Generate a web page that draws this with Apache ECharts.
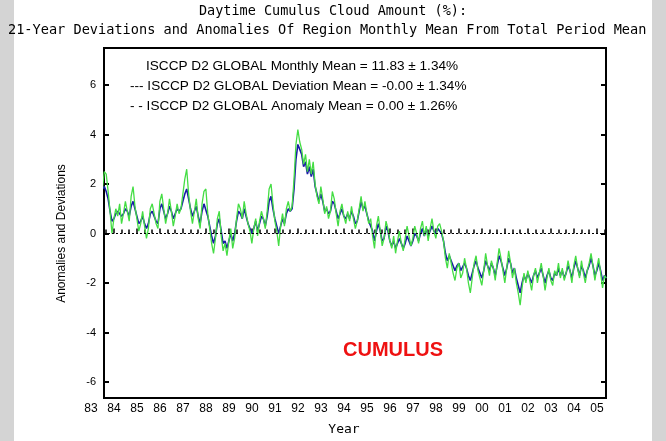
<!DOCTYPE html>
<html><head><meta charset="utf-8">
<script src="https://cdn.jsdelivr.net/npm/echarts@6/dist/echarts.min.js"></script>
<style>html,body{margin:0;padding:0;background:#fff}#c{width:666px;height:441px}</style>
</head><body><div id="c"></div>
<script>
const startYear = 83.5; // July 1983, two-digit years continued past 99
const yearTicks = [83,84,85,86,87,88,89,90,91,92,93,94,95,96,97,98,99,100,101,102,103,104,105];
const anomaly = [
1.8,2.5,2.4,1.7,0.9,0.0,
0.6,1.0,0.7,1.2,0.4,0.8,1.3,0.9,0.5,1.5,1.9,1.1,
0.6,0.1,0.4,0.9,0.3,-0.2,0.2,1.0,1.2,0.8,0.4,0.2,
1.3,1.6,1.0,0.4,0.8,1.4,0.9,0.3,0.7,1.2,0.8,1.0,
1.6,2.2,2.6,1.6,0.9,0.4,0.9,1.4,0.6,0.2,1.2,1.7,
1.8,0.8,0.2,-0.4,-0.8,-0.2,0.6,0.9,-0.1,-0.7,-0.4,-0.9,
-0.3,0.2,-0.6,-0.2,0.6,1.2,1.0,0.6,1.3,0.8,0.4,0.1,
-0.4,0.2,0.6,-0.1,0.5,0.9,0.6,0.2,0.9,1.8,2.0,1.2,
0.5,0.1,-0.5,0.3,0.8,0.3,1.0,1.3,0.9,1.1,2.2,3.6,
4.2,3.7,3.4,2.8,3.2,2.5,3.0,2.4,2.9,2.0,1.5,1.2,
1.9,1.4,0.8,1.1,0.6,0.9,1.7,1.4,0.8,0.3,0.9,1.2,
0.7,0.4,0.9,0.5,1.1,0.6,0.2,0.5,1.0,1.5,0.9,1.3,
0.8,0.4,0.6,-0.1,-0.6,0.3,0.7,0.1,-0.5,-0.2,0.5,0.2,
-0.3,-0.6,-0.1,-0.8,-0.3,0.1,-0.4,-0.7,-0.2,0.3,-0.1,-0.5,
-0.2,0.3,0.0,-0.4,0.2,0.5,-0.1,0.3,-0.3,0.2,0.6,0.1,
-0.2,0.3,0.4,0.1,-0.3,-1.0,-1.4,-0.8,-1.2,-1.6,-1.9,-1.4,
-1.2,-1.8,-1.6,-1.0,-1.4,-2.0,-2.4,-1.8,-1.2,-0.9,-1.5,-1.8,
-2.1,-1.5,-0.8,-1.3,-1.7,-1.1,-1.4,-1.9,-1.2,-0.6,-1.0,-1.5,
-2.0,-1.4,-0.7,-1.2,-1.8,-1.4,-2.0,-2.4,-2.9,-2.2,-1.6,-2.0,
-1.5,-1.9,-2.3,-1.7,-1.4,-2.0,-1.6,-1.2,-1.7,-2.3,-1.8,-1.4,
-1.9,-2.1,-1.5,-1.7,-1.2,-1.8,-1.4,-1.9,-1.6,-1.1,-1.5,-2.0,
-1.3,-0.9,-1.4,-1.8,-1.1,-1.6,-2.0,-1.5,-1.2,-0.8,-1.3,-1.9,
-1.4,-1.0,-1.6,-2.2,-1.7,-1.8];
const deviation = [
1.8,1.9,1.7,1.4,0.9,0.5,
0.6,0.8,0.9,0.9,0.7,0.8,1.0,0.9,0.7,1.1,1.3,1.0,
0.7,0.4,0.5,0.7,0.4,0.2,0.4,0.8,0.9,0.7,0.5,0.4,
1.0,1.2,0.9,0.6,0.8,1.1,0.9,0.6,0.8,1.0,0.9,1.0,
1.3,1.6,1.8,1.4,1.0,0.7,0.9,1.1,0.7,0.4,0.9,1.2,
1.2,0.7,0.3,-0.1,-0.4,-0.1,0.4,0.6,0.1,-0.4,-0.3,-0.6,
-0.3,0.0,-0.3,0.0,0.5,0.9,0.8,0.6,1.0,0.7,0.4,0.2,
0.0,0.2,0.5,0.1,0.4,0.7,0.6,0.3,0.7,1.3,1.5,1.0,
0.6,0.3,0.0,0.3,0.6,0.4,0.8,1.0,0.9,1.0,1.8,3.0,
3.6,3.4,3.2,2.7,2.9,2.4,2.7,2.3,2.6,1.9,1.6,1.3,
1.6,1.3,0.9,1.0,0.8,0.9,1.3,1.2,0.9,0.6,0.8,1.0,
0.7,0.6,0.8,0.6,0.9,0.7,0.4,0.5,0.9,1.3,1.0,1.1,
0.8,0.5,0.5,0.1,-0.3,0.1,0.4,0.1,-0.3,-0.2,0.3,0.1,
-0.3,-0.5,-0.3,-0.6,-0.4,-0.2,-0.4,-0.6,-0.4,-0.1,-0.3,-0.5,
-0.3,0.0,-0.1,-0.3,0.0,0.2,-0.1,0.2,-0.1,0.1,0.3,0.1,
0.0,0.2,0.2,0.0,-0.3,-0.8,-1.1,-0.9,-1.1,-1.3,-1.5,-1.3,
-1.2,-1.5,-1.5,-1.2,-1.4,-1.7,-1.9,-1.6,-1.3,-1.1,-1.4,-1.6,
-1.8,-1.5,-1.1,-1.3,-1.5,-1.2,-1.4,-1.7,-1.3,-0.9,-1.1,-1.4,
-1.7,-1.4,-1.0,-1.2,-1.6,-1.4,-1.8,-2.1,-2.4,-2.0,-1.7,-1.9,
-1.6,-1.8,-2.0,-1.7,-1.5,-1.8,-1.6,-1.4,-1.7,-2.0,-1.7,-1.5,
-1.8,-1.9,-1.6,-1.7,-1.4,-1.7,-1.5,-1.8,-1.6,-1.3,-1.5,-1.8,
-1.4,-1.1,-1.4,-1.7,-1.3,-1.5,-1.8,-1.5,-1.3,-1.0,-1.3,-1.7,
-1.5,-1.2,-1.5,-1.9,-1.7,-1.8];
const legendLines = [
'ISCCP D2 GLOBAL Monthly Mean = 11.83 \u00b1 1.34%',
'--- ISCCP D2 GLOBAL Deviation Mean = -0.00 \u00b1 1.34%',
'- - ISCCP D2 GLOBAL Anomaly Mean = 0.00 \u00b1 1.26%'];

const toPts = arr => arr.map((v,i)=>[startYear + i/12, v]);
const mono = 'DejaVu Sans Mono';
const sans = 'Arial, Liberation Sans';
const chart = echarts.init(document.getElementById('c'));
chart.setOption({
  animation:false,
  backgroundColor:'#fff',
  graphic:[
    {type:'rect',left:0,top:0,shape:{width:14,height:441},style:{fill:'#d4d4d4'},z:-10},
    {type:'rect',left:652,top:0,shape:{width:14,height:441},style:{fill:'#d4d4d4'},z:-10},
    {type:'text',left:'center',top:4,style:{text:'Daytime Cumulus Cloud Amount (%):',font:'13.5px '+mono,fill:'#000'}},
    {type:'text',left:8,top:23,style:{text:'21-Year Deviations and Anomalies Of Region Monthly Mean From Total Period Mean',font:'13.6px '+mono,fill:'#000'}},
    {type:'text',left:146,top:59,style:{text:legendLines[0],font:'13.6px '+sans,fill:'#000'}},
    {type:'text',left:130,top:79,style:{text:legendLines[1],font:'13.6px '+sans,fill:'#000'}},
    {type:'text',left:130,top:99,style:{text:legendLines[2],font:'13.6px '+sans,fill:'#000'}},
    {type:'text',left:343,top:340,style:{text:'CUMULUS',font:'bold 20px '+sans,fill:'#ee1111'}}
  ],
  grid:[
    {left:104,right:60,top:48,bottom:43,show:true,borderColor:'#000',borderWidth:2,backgroundColor:'#fff'},
    {left:91,right:69,top:48,bottom:43},
    {left:104,right:60,top:85,bottom:59}
  ],
  xAxis:[
    {gridIndex:0,type:'value',min:83.57,max:105.4,splitNumber:22,axisLine:{show:false},
     axisTick:{show:true,inside:true,length:5,lineStyle:{color:'#000',width:1.5}},minorTick:{show:true,splitNumber:3,length:4,lineStyle:{color:'#000',width:1.5}},
     axisLabel:{show:false},splitLine:{show:false}},
    {gridIndex:1,type:'value',min:83,max:105,interval:1,axisLine:{show:false},axisTick:{show:false},splitLine:{show:false},
     axisLabel:{fontFamily:sans,fontSize:12,color:'#000',margin:12,formatter:v=>String(v%100).padStart(2,'0')},
     name:'Year',nameLocation:'middle',nameGap:32,nameTextStyle:{fontFamily:mono,fontSize:13,color:'#000'}},
    {gridIndex:2,type:'value',show:false,min:0,max:1}
  ],
  yAxis:[
    {gridIndex:0,type:'value',min:-6.65,max:7.5,axisLine:{show:false},axisTick:{show:false},axisLabel:{show:false},splitLine:{show:false}},
    {gridIndex:1,type:'value',show:false,min:0,max:1},
    {gridIndex:2,type:'value',min:-6,max:6,interval:2,position:'left',axisLine:{show:false},
     axisTick:{show:true,inside:true,length:5,lineStyle:{color:'#000',width:2}},splitLine:{show:false},
     axisLabel:{fontFamily:sans,fontSize:11,color:'#000',margin:8},
     name:'Anomalies and Deviations',nameLocation:'middle',nameGap:36,nameRotate:90,nameTextStyle:{fontFamily:sans,fontSize:12,color:'#000'}},
    {gridIndex:2,type:'value',min:-6,max:6,interval:2,position:'right',axisLine:{show:false},
     axisTick:{show:true,inside:true,length:5,lineStyle:{color:'#000',width:2}},splitLine:{show:false},axisLabel:{show:false}}
  ],
  series:[
    {type:'line',xAxisIndex:0,yAxisIndex:0,data:toPts(deviation),showSymbol:false,lineStyle:{color:'#1a1aa8',width:1.6},z:2},
    {type:'line',xAxisIndex:0,yAxisIndex:0,data:toPts(anomaly),showSymbol:false,lineStyle:{color:'#44dd44',width:1.3},z:3,
     markLine:{symbol:'none',silent:true,label:{show:false},lineStyle:{color:'#000',type:[2,2],width:1},data:[{yAxis:0}]}}
  ]
});
</script></body></html>
